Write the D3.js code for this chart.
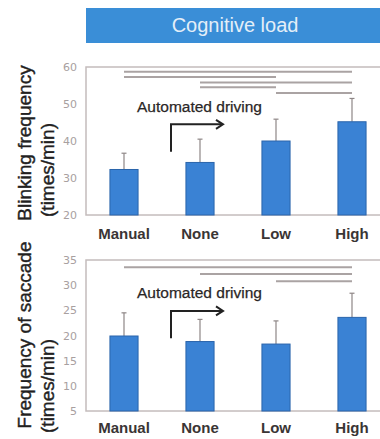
<!DOCTYPE html>
<html>
<head>
<meta charset="utf-8">
<script src="https://cdn.jsdelivr.net/npm/d3@7"></script>
<style>
  body { margin: 0; background: #fff; }
  svg { display: block; font-family: Arial, "Liberation Sans", sans-serif; }
</style>
</head>
<body>
<svg id="chart" width="380" height="439"></svg>
<script>
// data
var categories = ["Manual", "None", "Low", "High"];

var blinkMean = [32.3, 34.2, 40.0, 45.2];
var blinkErr = [4.4, 6.3, 5.9, 6.3];
var blinkTicks = [20, 30, 40, 50, 60];
// significance bars: [from, to, level]
var blinkSig = [[0, 3, 58.7], [0, 2, 57.3], [1, 3, 55.8], [1, 2, 54.5], [2, 3, 53.0]];

var saccMean = [19.9, 18.8, 18.3, 23.6];
var saccErr = [4.6, 4.4, 4.6, 4.8];
var saccTicks = [5, 10, 15, 20, 25, 30, 35];
var saccSig = [[0, 3, 33.55], [1, 3, 32.2], [2, 3, 30.8]];

var svg = d3.select("#chart");

var x = d3.scaleBand()
    .domain(categories)
    .range([86, 390])
    .paddingInner(0.63)
    .paddingOuter(0.315);

// banner
svg.append("rect")
    .attr("x", 86).attr("y", 8)
    .attr("width", 300).attr("height", 35)
    .attr("fill", "#3a8ed7");
svg.append("text")
    .attr("x", 235).attr("y", 32)
    .attr("text-anchor", "middle")
    .attr("font-size", "20px")
    .attr("fill", "#e4eef8")
    .text("Cognitive load");

function drawPanel(opts) {
    var y = d3.scaleLinear().domain(opts.domain).range(opts.range);
    var g = svg.append("g");

    // frame
    g.append("rect")
        .attr("x", 86).attr("y", opts.range[1])
        .attr("width", 300).attr("height", opts.range[0] - opts.range[1])
        .attr("fill", "none")
        .attr("stroke", "#c4bcbc")
        .attr("stroke-width", 1.5);

    // y axis labels only
    var axis = d3.axisLeft(y).tickValues(opts.ticks).tickSize(0).tickPadding(0);
    var ax = g.append("g")
        .attr("transform", "translate(77,0)")
        .call(axis);
    ax.select(".domain").remove();
    ax.selectAll("text")
        .attr("font-family", "'DejaVu Sans', sans-serif")
        .attr("font-size", "11px")
        .attr("fill", "#a8a0a0");

    // error bars (upper only)
    var eb = g.selectAll(".err").data(categories).enter().append("g");
    eb.append("line")
        .attr("x1", function(d) { return x(d) + x.bandwidth() / 2; })
        .attr("x2", function(d) { return x(d) + x.bandwidth() / 2; })
        .attr("y1", function(d, i) { return y(opts.mean[i]); })
        .attr("y2", function(d, i) { return y(opts.mean[i] + opts.err[i]); })
        .attr("stroke", "#8e8686")
        .attr("stroke-width", 1.2);
    eb.append("line")
        .attr("x1", function(d) { return x(d) + x.bandwidth() / 2 - 2.5; })
        .attr("x2", function(d) { return x(d) + x.bandwidth() / 2 + 2.5; })
        .attr("y1", function(d, i) { return y(opts.mean[i] + opts.err[i]); })
        .attr("y2", function(d, i) { return y(opts.mean[i] + opts.err[i]); })
        .attr("stroke", "#8e8686")
        .attr("stroke-width", 1.2);

    // bars
    g.selectAll(".bar").data(categories).enter().append("rect")
        .attr("x", function(d) { return x(d); })
        .attr("width", x.bandwidth())
        .attr("y", function(d, i) { return y(opts.mean[i]); })
        .attr("height", function(d, i) { return y(opts.domain[0]) - y(opts.mean[i]); })
        .attr("fill", "#3a82d4")
        .attr("stroke", "#2a64ab")
        .attr("stroke-width", 1);

    // significance lines
    g.selectAll(".sig").data(opts.sig).enter().append("line")
        .attr("x1", function(d) { return x(categories[d[0]]) + x.bandwidth() / 2; })
        .attr("x2", function(d) { return x(categories[d[1]]) + x.bandwidth() / 2; })
        .attr("y1", function(d) { return y(d[2]); })
        .attr("y2", function(d) { return y(d[2]); })
        .attr("stroke", "#aaa3a3")
        .attr("stroke-width", 2);

    // category labels
    g.selectAll(".cat").data(categories).enter().append("text")
        .attr("x", function(d) { return x(d) + x.bandwidth() / 2; })
        .attr("y", opts.catY)
        .attr("text-anchor", "middle")
        .attr("font-size", "15px")
        .attr("font-weight", "bold")
        .attr("fill", "#3a3535")
        .text(function(d) { return d; });

    // automated driving note + arrow
    g.append("text")
        .attr("x", 137).attr("y", opts.noteY)
        .attr("font-size", "15.5px")
        .attr("fill", "#2a2626")
        .attr("stroke", "#2a2626")
        .attr("stroke-width", 0.25)
        .text("Automated driving");
    var ay = opts.noteY + 12.6, by = ay + 27.4;
    g.append("path")
        .attr("d", "M171," + by + "V" + ay + "H222")
        .attr("fill", "none")
        .attr("stroke", "#222")
        .attr("stroke-width", 2);
    g.append("path")
        .attr("d", "M216," + (ay - 4.5) + "L223," + ay + "L216," + (ay + 4.5))
        .attr("fill", "none")
        .attr("stroke", "#222")
        .attr("stroke-width", 2);

    // y titles
    opts.titles.forEach(function(t) {
        g.append("text")
            .attr("transform", "translate(" + t[1] + "," + t[2] + ") rotate(-90)")
            .attr("text-anchor", "middle")
            .attr("font-size", "19px")
            .attr("fill", "#231f1f")
            .attr("stroke", "#231f1f")
            .attr("stroke-width", 0.4)
            .text(t[0]);
    });
}

drawPanel({
    domain: [20, 60], range: [215, 67],
    ticks: blinkTicks, mean: blinkMean, err: blinkErr, sig: blinkSig,
    catY: 238.5, noteY: 111.7,
    titles: [["Blinking frequency", 31, 143], ["(times/min)", 54, 170]]
});

drawPanel({
    domain: [5, 35], range: [411, 260],
    ticks: saccTicks, mean: saccMean, err: saccErr, sig: saccSig,
    catY: 433, noteY: 298.3,
    titles: [["Frequency of saccade", 31, 335], ["(times/min)", 54, 386]]
});
</script>
</body>
</html>
